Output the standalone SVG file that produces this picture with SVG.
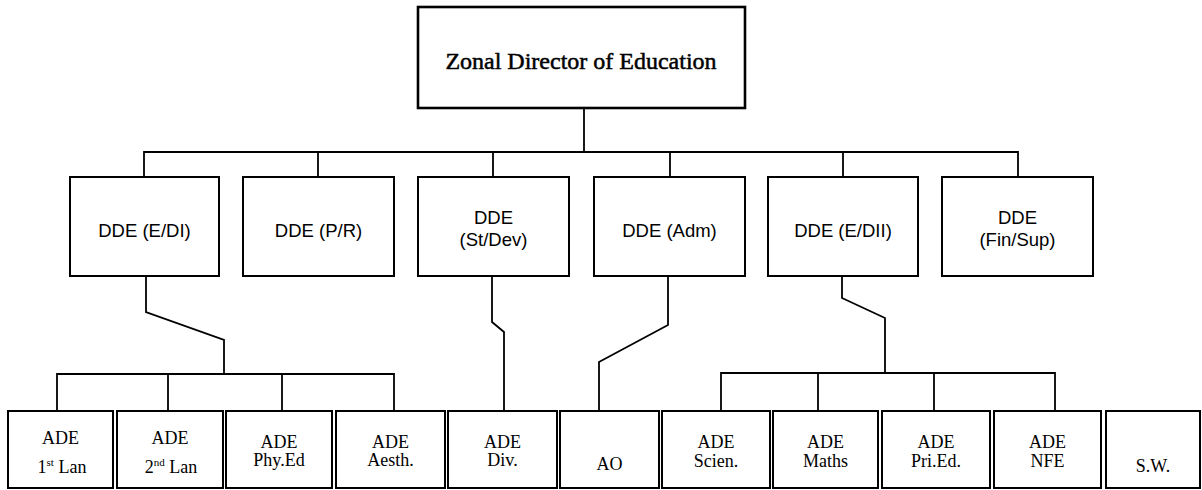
<svg xmlns="http://www.w3.org/2000/svg" width="1202" height="490" viewBox="0 0 1202 490">
<style>
.box{fill:#fff;stroke:#000;stroke-width:2}
.top{fill:#fff;stroke:#000;stroke-width:2.6}
.ln{fill:none;stroke:#000;stroke-width:1.8;stroke-linejoin:miter}
.t1{font-family:"Liberation Serif","Times New Roman",serif;font-size:24px;fill:#000;stroke:#000;stroke-width:0.5;text-anchor:middle}
.dd{font-family:"Liberation Sans",Arial,sans-serif;font-size:18.5px;fill:#000;text-anchor:middle}
.ad{font-family:"Liberation Serif","Times New Roman",serif;font-size:18px;fill:#000;text-anchor:middle}
</style>
<rect width="1202" height="490" fill="#fff"/>
<g id="connectors">
<path class="ln" d="M584 108V152"/>
<path class="ln" d="M144 177V152H1018V177M318 152V177M493 152V177M670 152V177M843 152V177"/>
<path class="ln" d="M146 276V312L224 340V374"/>
<path class="ln" d="M57 411V374H394V411M168 374V411M282 374V411"/>
<path class="ln" d="M492 276V322L504 332V411"/>
<path class="ln" d="M668 276V325L599 362V411"/>
<path class="ln" d="M842 276V298L885 318V373"/>
<path class="ln" d="M721 411V373H1055V411M818 373V411M934 373V411"/>
</g>
<g id="zde">
<rect class="top" x="418" y="7" width="327" height="101"/>
<text class="t1" x="581" y="69">Zonal Director of Education</text>
</g>
<g id="dde-edi">
<rect class="box" x="70" y="177" width="149" height="99"/>
<text class="dd" x="144.5" y="237">DDE (E/DI)</text>
</g>
<g id="dde-pr">
<rect class="box" x="243" y="177" width="151" height="99"/>
<text class="dd" x="318.5" y="237">DDE (P/R)</text>
</g>
<g id="dde-stdev">
<rect class="box" x="418" y="177" width="151" height="99"/>
<text class="dd" x="493.5" y="224">DDE</text>
<text class="dd" x="493.5" y="246">(St/Dev)</text>
</g>
<g id="dde-adm">
<rect class="box" x="594" y="177" width="151" height="99"/>
<text class="dd" x="669.5" y="237">DDE (Adm)</text>
</g>
<g id="dde-edii">
<rect class="box" x="768" y="177" width="150" height="99"/>
<text class="dd" x="843" y="237">DDE (E/DII)</text>
</g>
<g id="dde-finsup">
<rect class="box" x="942" y="177" width="151" height="99"/>
<text class="dd" x="1017.5" y="224">DDE</text>
<text class="dd" x="1017.5" y="246">(Fin/Sup)</text>
</g>
<g id="ade-1lan">
<rect class="box" x="8" y="411" width="105" height="77"/>
<text class="ad" x="60.5" y="444">ADE</text>
<text class="ad" x="62" y="473">1<tspan font-size="11" dy="-7">st</tspan><tspan dy="7"> Lan</tspan></text>
</g>
<g id="ade-2lan">
<rect class="box" x="117" y="411" width="106" height="77"/>
<text class="ad" x="170" y="444">ADE</text>
<text class="ad" x="171" y="473">2<tspan font-size="11" dy="-7">nd</tspan><tspan dy="7"> Lan</tspan></text>
</g>
<g id="ade-phyed">
<rect class="box" x="226" y="411" width="106" height="77"/>
<text class="ad" x="279" y="448">ADE</text>
<text class="ad" x="279" y="466">Phy.Ed</text>
</g>
<g id="ade-aesth">
<rect class="box" x="336" y="411" width="109" height="77"/>
<text class="ad" x="390.5" y="448">ADE</text>
<text class="ad" x="390.5" y="466">Aesth.</text>
</g>
<g id="ade-div">
<rect class="box" x="448" y="411" width="109" height="77"/>
<text class="ad" x="502.5" y="448">ADE</text>
<text class="ad" x="502.5" y="466">Div.</text>
</g>
<g id="ao">
<rect class="box" x="560" y="411" width="99" height="77"/>
<text class="ad" x="609.5" y="470">AO</text>
</g>
<g id="ade-scien">
<rect class="box" x="662" y="411" width="108" height="77"/>
<text class="ad" x="716" y="448">ADE</text>
<text class="ad" x="716" y="467">Scien.</text>
</g>
<g id="ade-maths">
<rect class="box" x="773" y="411" width="105" height="77"/>
<text class="ad" x="825.5" y="448">ADE</text>
<text class="ad" x="825.5" y="467">Maths</text>
</g>
<g id="ade-pried">
<rect class="box" x="882" y="411" width="108" height="77"/>
<text class="ad" x="936" y="448">ADE</text>
<text class="ad" x="936" y="467">Pri.Ed.</text>
</g>
<g id="ade-nfe">
<rect class="box" x="994" y="411" width="107" height="77"/>
<text class="ad" x="1047.5" y="448">ADE</text>
<text class="ad" x="1047.5" y="467">NFE</text>
</g>
<g id="sw">
<rect class="box" x="1106" y="411" width="94" height="77"/>
<text class="ad" x="1153" y="472">S.W.</text>
</g>
</svg>
